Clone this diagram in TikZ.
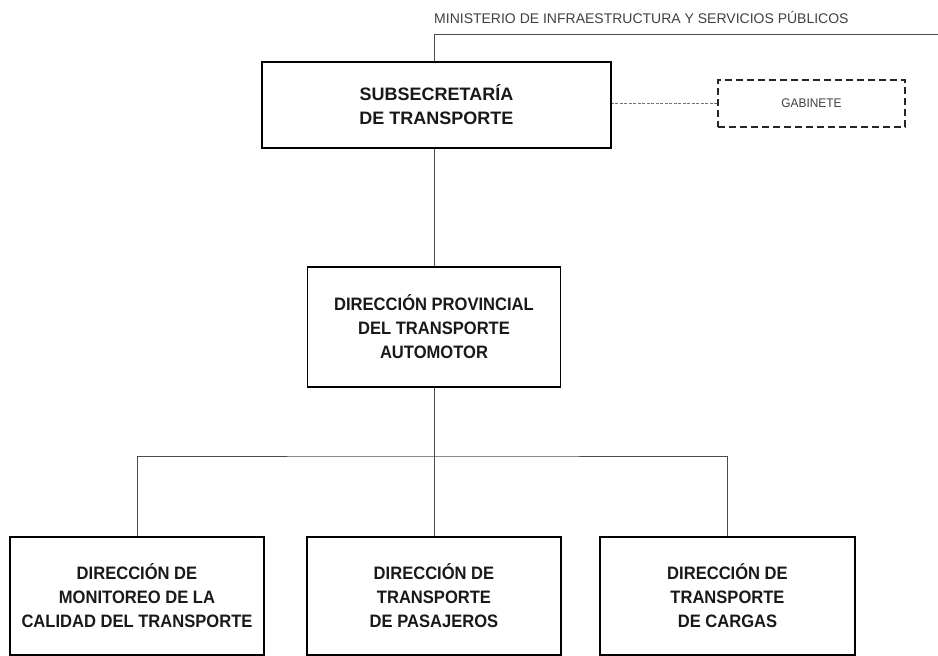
\documentclass[tikz,border=0pt]{standalone}
\usepackage{fontspec}
\setmainfont{Liberation Sans}
\newfontfamily\narrowbf[FakeStretch=0.92]{Liberation Sans Bold}
\newfontfamily\widebf{Liberation Sans Bold}
\newfontfamily\narrowrm[FakeStretch=0.95]{Liberation Sans}
\begin{document}
\begin{tikzpicture}[x=1pt,y=-1pt,
  unitbox/.style={draw=black, line width=1.7pt, inner sep=0pt, align=center,
    font=\narrowbf\fontsize{18}{24}\selectfont, text=black!90},
  cabinetbox/.style={draw=black!85, line width=1.7pt, dash pattern=on 7pt off 4pt,
    inner sep=0pt, font=\narrowrm\fontsize{12.5}{14}\selectfont, text=black!75},
  link/.style={draw=black!70, line width=0.8pt},
  dotlink/.style={draw=black!55, line width=0.8pt, dash pattern=on 3pt off 1.5pt}]
\useasboundingbox (0,0) rectangle (938,656);
\fill[white] (0,0) rectangle (938,656);

% ministry label and its frame line
\node[anchor=west, inner sep=0pt, font=\fontsize{14}{16}\selectfont, text=black!75]
  (min) at (434,17) {MINISTERIO DE INFRAESTRUCTURA Y SERVICIOS PÚBLICOS};
\coordinate (mcorner) at (434,34);
\coordinate (mend) at (938,34);

% units
\node[unitbox, font=\widebf\fontsize{18}{24}\selectfont, minimum width=349pt, minimum height=86pt]
  (sub) at (436.5,105) {SUBSECRETARÍA\\DE TRANSPORTE};
\node[cabinetbox, minimum width=187pt, minimum height=47pt] (gab) at (811.5,103.5) {GABINETE};
\node[unitbox, minimum width=253pt, minimum height=120pt] (dir) at (434,327)
  {DIRECCIÓN PROVINCIAL\\DEL TRANSPORTE\\AUTOMOTOR};
\node[unitbox, minimum width=254pt, minimum height=118pt] (mon) at (137,596)
  {DIRECCIÓN DE\\MONITOREO DE LA\\CALIDAD DEL TRANSPORTE};
\node[unitbox, minimum width=254pt, minimum height=118pt] (pas) at (434,596)
  {DIRECCIÓN DE\\TRANSPORTE\\DE PASAJEROS};
\node[unitbox, minimum width=255pt, minimum height=118pt] (car) at (727.5,596)
  {DIRECCIÓN DE\\TRANSPORTE\\DE CARGAS};
\coordinate (bus) at (434,456);

% connectors
\draw[link] (mend) -- (mcorner) -- (mcorner |- sub.north);
\draw[dotlink] (gab.west) -- (gab.west -| sub.east);
\draw[link] (bus |- sub.south) -- (bus |- dir.north);
\draw[link] (bus |- dir.south) -- (bus);
\draw[link] (mon.north) |- (bus) -| (car.north);
\draw[link] (bus) -- (pas.north);
\end{tikzpicture}
\end{document}
